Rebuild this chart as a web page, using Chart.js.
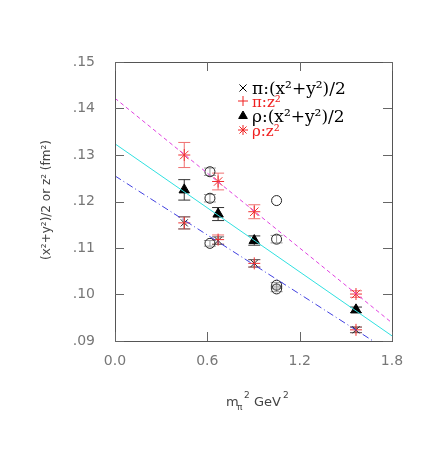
<!DOCTYPE html>
<html>
<head>
<meta charset="utf-8">
<script src="https://cdn.jsdelivr.net/npm/chart.js@4"></script>
<style>
body{margin:0;background:#fff;}
#c{display:block;}
</style>
</head>
<body>
<canvas id="c" width="436" height="463"></canvas>
<script>
// data
var xTicks = [0.0, 0.6, 1.2, 1.8];
var yTicks = [0.09, 0.10, 0.11, 0.12, 0.13, 0.14, 0.15];

var piXYx = [0.45, 0.67, 0.905, 1.566];
var piXYy = [0.1154, 0.1116, 0.1067, 0.0924];
var piXYe = [0.0013, 0.0008, 0.0008, 0.0006];

var piZx = [0.45, 0.67, 0.905, 1.566];
var piZy = [0.1154, 0.1118, 0.1067, 0.0924];
var piZe = [0.0013, 0.0010, 0.0008, 0.0006];

var rhoXYx = [0.45, 0.67, 0.905, 1.566];
var rhoXYy = [0.1225, 0.1173, 0.1116, 0.0967];
var rhoXYe = [0.0022, 0.0014, 0.0010, 0.0006];

var rhoZx = [0.45, 0.67, 0.905, 1.566];
var rhoZy = [0.1300, 0.1243, 0.1178, 0.1001];
var rhoZe = [0.0027, 0.0018, 0.0015, 0.0007];

var circX = [0.617, 0.617, 0.617, 1.05, 1.05, 1.05, 1.05];
var circY = [0.1264, 0.1207, 0.1110, 0.1202, 0.1119, 0.1020, 0.1012];
var circE = [0.0008, 0.0008, 0.0006, 0, 0.0008, 0.0006, 0.0006];

var fitX = [0.0, 1.8];
var fitRhoZ = [0.1422, 0.0939];
var fitRhoXY = [0.1324, 0.0911];
var fitPi = [0.1255, 0.0874];

function pts(xs, ys){ return xs.map(function(x,i){ return {x:x, y:ys[i]}; }); }

var errPlugin = {
	id:'errbars',
	beforeDatasetsDraw: function(chart){
		var ctx = chart.ctx, ys = chart.scales.y, xs = chart.scales.x;
		ctx.save();
		chart.data.datasets.forEach(function(ds){
			if(!ds.err) return;
			ctx.strokeStyle = ds.errColor;
			ctx.lineWidth = 1;
			ds.data.forEach(function(p,i){
				var e = ds.err[i];
				if(!e) return;
				var px = xs.getPixelForValue(p.x);
				var y1 = ys.getPixelForValue(p.y - e), y2 = ys.getPixelForValue(p.y + e);
				ctx.beginPath();
				ctx.moveTo(px, y1); ctx.lineTo(px, y2);
				ctx.moveTo(px-6, y1); ctx.lineTo(px+6, y1);
				ctx.moveTo(px-6, y2); ctx.lineTo(px+6, y2);
				ctx.stroke();
			});
		});
		ctx.restore();
	}
};

var framePlugin = {
	id:'frame',
	afterDraw: function(chart){
		var ctx = chart.ctx, a = chart.chartArea, xs = chart.scales.x, ys = chart.scales.y;
		ctx.save();
		ctx.strokeStyle = '#555';
		ctx.lineWidth = 1;
		ctx.strokeRect(a.left+0.5, a.top+0.5, a.right-a.left, a.bottom-a.top);
		ctx.strokeStyle = '#666';
		ctx.beginPath();
		yTicks.forEach(function(v){
			var py = Math.round(ys.getPixelForValue(v))+0.5;
			ctx.moveTo(a.left, py); ctx.lineTo(a.left+9, py);
			ctx.moveTo(a.right, py); ctx.lineTo(a.right-9, py);
		});
		xTicks.forEach(function(v){
			var px = Math.round(xs.getPixelForValue(v))+0.5;
			ctx.moveTo(px, a.bottom); ctx.lineTo(px, a.bottom-9);
			ctx.moveTo(px, a.top); ctx.lineTo(px, a.top+9);
		});
		ctx.stroke();

		// axis titles
		ctx.fillStyle = '#444';
		ctx.textAlign = 'left';
		ctx.font = '13px "DejaVu Sans"';
		ctx.fillText('m', 226, 406);
		ctx.font = '9px "DejaVu Sans"';
		ctx.fillText('π', 237, 410);
		ctx.fillText('2', 244, 398);
		ctx.font = '13px "DejaVu Sans"';
		ctx.fillText('GeV', 254, 406);
		ctx.font = '9px "DejaVu Sans"';
		ctx.fillText('2', 283, 398);
		ctx.save();
		ctx.translate(50, 200);
		ctx.rotate(-Math.PI/2);
		ctx.textAlign = 'center';
		ctx.font = '12px "DejaVu Sans"';
		ctx.fillText('(x²+y²)/2 or z² (fm²)', 0, 0);
		ctx.restore();

		// legend
		var rows = [
			{t:'π:(x²+y²)/2', c:'#000', s:'crossRot', f:'17px'},
			{t:'π:z²', c:'#f02020', s:'cross', f:'15px'},
			{t:'ρ:(x²+y²)/2', c:'#000', s:'triangle', f:'17px'},
			{t:'ρ:z²', c:'#f02020', s:'star', f:'15px'}
		];
		var ly = [93, 106, 121, 135];
		rows.forEach(function(r,i){
			ctx.strokeStyle = r.c;
			ctx.fillStyle = r.c;
			ctx.lineWidth = 1;
			Chart.helpers.drawPoint(ctx, {pointStyle:r.s, radius:5, borderWidth:1}, 243, ly[i]-5);
			ctx.textAlign = 'left';
			ctx.font = r.f + ' "DejaVu Serif"';
			ctx.fillText(r.t, 252, ly[i]+1);
		});
		ctx.restore();
	}
};

new Chart(document.getElementById('c'), {
	type:'scatter',
	data:{
		datasets:[
			{data:pts(fitX, fitRhoZ), showLine:true, borderColor:'#e040e0', borderWidth:1, borderDash:[4,3], pointRadius:0},
			{data:pts(fitX, fitRhoXY), showLine:true, borderColor:'#30e0e0', borderWidth:1, pointRadius:0},
			{data:pts(fitX, fitPi), showLine:true, borderColor:'#4040e0', borderWidth:1, borderDash:[7,3,1,3], pointRadius:0},
			{data:pts(circX, circY), err:circE, errColor:'#999', pointStyle:'circle', pointRadius:5, borderColor:'#222', backgroundColor:'rgba(0,0,0,0)', borderWidth:1},
			{data:pts(piZx, piZy), err:piZe, errColor:'#f07070', pointStyle:'cross', pointRadius:6, borderColor:'#f03030', borderWidth:1},
			{data:pts(piXYx, piXYy), err:piXYe, errColor:'#666', pointStyle:'crossRot', pointRadius:5, borderColor:'#222', borderWidth:1},
			{data:pts(rhoXYx, rhoXYy), err:rhoXYe, errColor:'#333', pointStyle:'triangle', pointRadius:6, borderColor:'#000', backgroundColor:'#000', borderWidth:1},
			{data:pts(rhoZx, rhoZy), err:rhoZe, errColor:'#f07070', pointStyle:'star', pointRadius:6, borderColor:'#f03030', borderWidth:1}
		]
	},
	plugins:[errPlugin, framePlugin],
	options:{
		responsive:false,
		animation:false,
		events:[],
		clip:{left:0, top:0, right:0, bottom:0},
		layout:{padding:{left:60, top:62, right:44, bottom:0}},
		plugins:{legend:{display:false}, tooltip:{enabled:false}},
		scales:{
			x:{
				type:'linear', min:0, max:1.8,
				afterBuildTicks:function(s){ s.ticks = xTicks.map(function(v){ return {value:v}; }); },
				afterFit:function(s){ s.height = 122; },
				grid:{display:false}, border:{display:false},
				ticks:{color:'#777', font:{family:'DejaVu Sans', size:14}, padding:4,
					callback:function(v){ return v.toFixed(1); }}
			},
			y:{
				min:0.09, max:0.15,
				afterBuildTicks:function(s){ s.ticks = yTicks.map(function(v){ return {value:v}; }); },
				afterFit:function(s){ s.width = 55; },
				grid:{display:false}, border:{display:false},
				ticks:{color:'#777', font:{family:'DejaVu Sans', size:14}, padding:12,
					callback:function(v){ return v.toFixed(2).replace(/^0/, ''); }}
			}
		}
	}
});
</script>
</body>
</html>
